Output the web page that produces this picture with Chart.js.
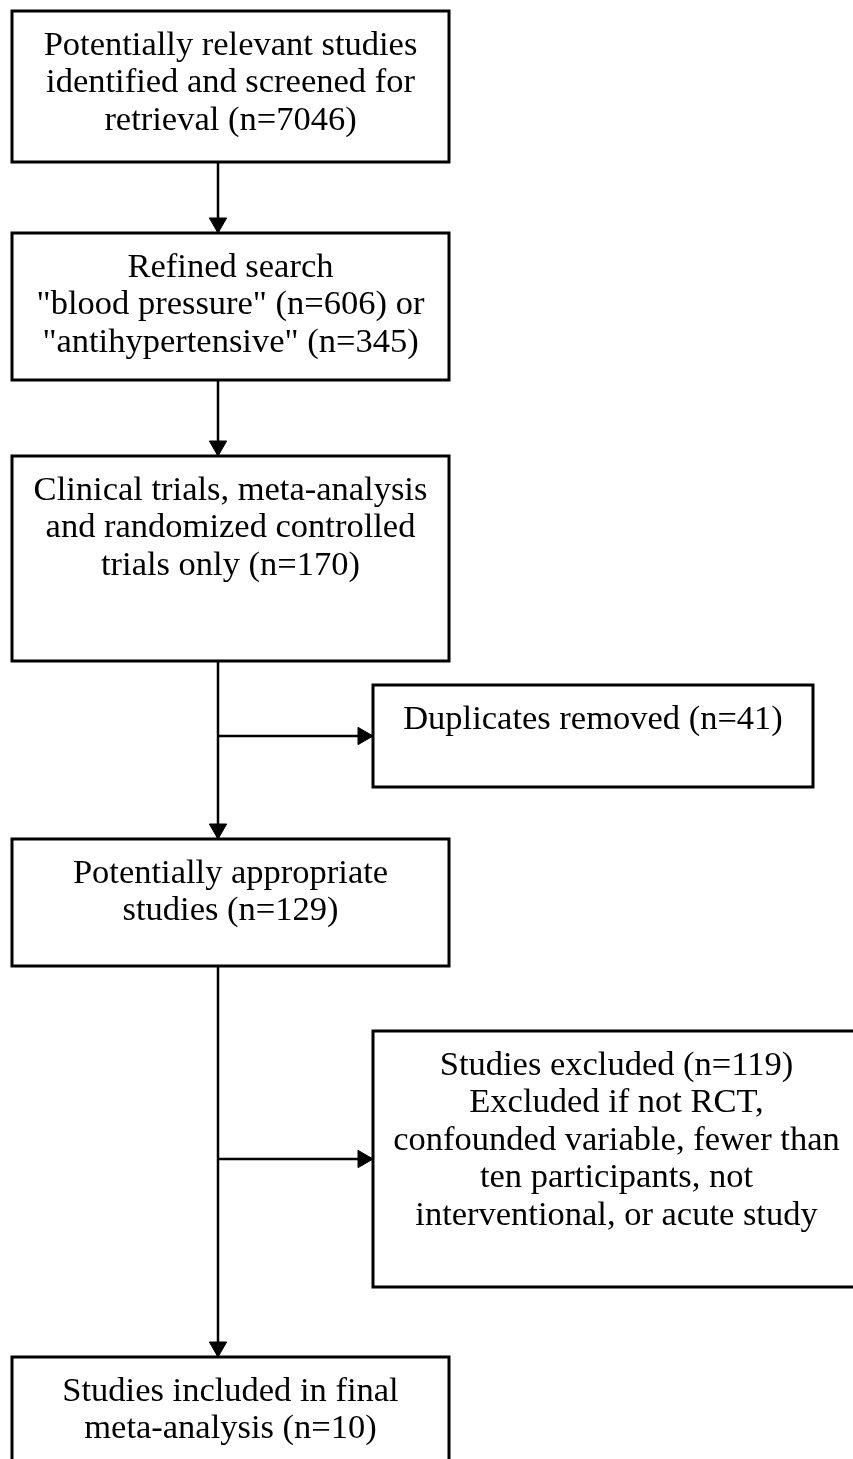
<!DOCTYPE html>
<html lang="en">
<head>
<meta charset="UTF-8">
<title>Study selection flow</title>
<script src="https://cdn.jsdelivr.net/npm/chart.js"></script>
<style>
    body { margin: 0; background: #fff; }
    canvas { display: block; }
</style>
</head>
<body>
<canvas id="fluxCanvas" width="853" height="1459"></canvas>

<script>
    // text of each box, one entry per line
    const boxText = [
        ['Potentially relevant studies', 'identified and screened for', 'retrieval (n=7046)'],
        ['Refined search', '"blood pressure" (n=606) or', '"antihypertensive" (n=345)'],
        ['Clinical trials, meta-analysis', 'and randomized controlled', 'trials only (n=170)'],
        ['Duplicates removed (n=41)'],
        ['Potentially appropriate', 'studies (n=129)'],
        ['Studies excluded (n=119)', 'Excluded if not RCT,', 'confounded variable, fewer than', 'ten participants, not', 'interventional, or acute study'],
        ['Studies included in final', 'meta-analysis (n=10)']
    ];

    // main path (box -> box) and side exits (from main link -> side box)
    const mainLinks = [[0, 1], [1, 2], [2, 4], [4, 6]];
    const sideLinks = [[2, 3], [3, 5]];   // [index in mainLinks, side box]

    // layout, in canvas units (axes run 0..853 and 0..1459)
    const boxLeft   = [12, 12, 12, 373, 12, 373, 12];
    const boxRight  = [449, 449, 449, 813, 449, 860, 449];
    const boxTop    = [11, 233, 456, 685, 839, 1031, 1357];
    const boxBottom = [162, 380, 661, 787, 966, 1287, 1500];
    const trunkX = 218;
    const headR = 10;

    const datasets = [];

    // box outlines
    boxText.forEach((linhas, i) => {
        datasets.push({
            data: [
                { x: boxLeft[i], y: boxTop[i] },
                { x: boxRight[i], y: boxTop[i] },
                { x: boxRight[i], y: boxBottom[i] },
                { x: boxLeft[i], y: boxBottom[i] },
                { x: boxLeft[i], y: boxTop[i] }
            ],
            borderColor: '#000',
            borderWidth: 3,
            borderJoinStyle: 'miter',
            borderCapStyle: 'square',
            pointRadius: 0,
            tension: 0
        });
    });

    // connectors + arrow heads
    const heads = [];
    const headRot = [];
    mainLinks.forEach(([a, b]) => {
        datasets.push({
            data: [{ x: trunkX, y: boxBottom[a] }, { x: trunkX, y: boxTop[b] }],
            borderColor: '#000', borderWidth: 2.5, pointRadius: 0
        });
        heads.push({ x: trunkX, y: boxTop[b] - headR });
        headRot.push(180);
    });
    sideLinks.forEach(([k, s]) => {
        const yMid = (boxTop[s] + boxBottom[s]) / 2;
        datasets.push({
            data: [{ x: trunkX, y: yMid }, { x: boxLeft[s], y: yMid }],
            borderColor: '#000', borderWidth: 2.5, pointRadius: 0
        });
        heads.push({ x: boxLeft[s] - headR, y: yMid });
        headRot.push(90);
    });
    datasets.push({
        data: heads,
        showLine: false,
        pointStyle: 'triangle',
        pointRadius: headR,
        pointRotation: headRot,
        pointBackgroundColor: '#000',
        pointBorderColor: '#000',
        pointBorderWidth: 1
    });

    // writes the text inside the boxes
    const boxLabels = {
        id: 'boxLabels',
        afterDatasetsDraw(chart) {
            const ctx = chart.ctx;
            const sx = chart.scales.x;
            const sy = chart.scales.y;
            ctx.save();
            ctx.fillStyle = '#000';
            ctx.font = '34.5px "Liberation Serif", "Times New Roman", serif';
            ctx.textAlign = 'center';
            ctx.textBaseline = 'alphabetic';
            boxText.forEach((linhas, i) => {
                const cx = sx.getPixelForValue((boxLeft[i] + boxRight[i]) / 2);
                const top = sy.getPixelForValue(boxTop[i]);
                linhas.forEach((t, j) => {
                    ctx.fillText(t, cx, top + 43.5 + j * 37.5);
                });
            });
            ctx.restore();
        }
    };

    const config = {
        type: 'scatter',
        data: { datasets: datasets },
        options: {
            responsive: false,
            animation: false,
            showLine: true,
            layout: { padding: 0, autoPadding: false },
            scales: {
                x: { type: 'linear', min: 0, max: 853, display: false },
                y: { type: 'linear', min: 0, max: 1459, reverse: true, display: false }
            },
            plugins: {
                legend: { display: false },
                tooltip: { enabled: false }
            }
        },
        plugins: [boxLabels]
    };

    new Chart(document.getElementById('fluxCanvas').getContext('2d'), config);
</script>
</body>
</html>
